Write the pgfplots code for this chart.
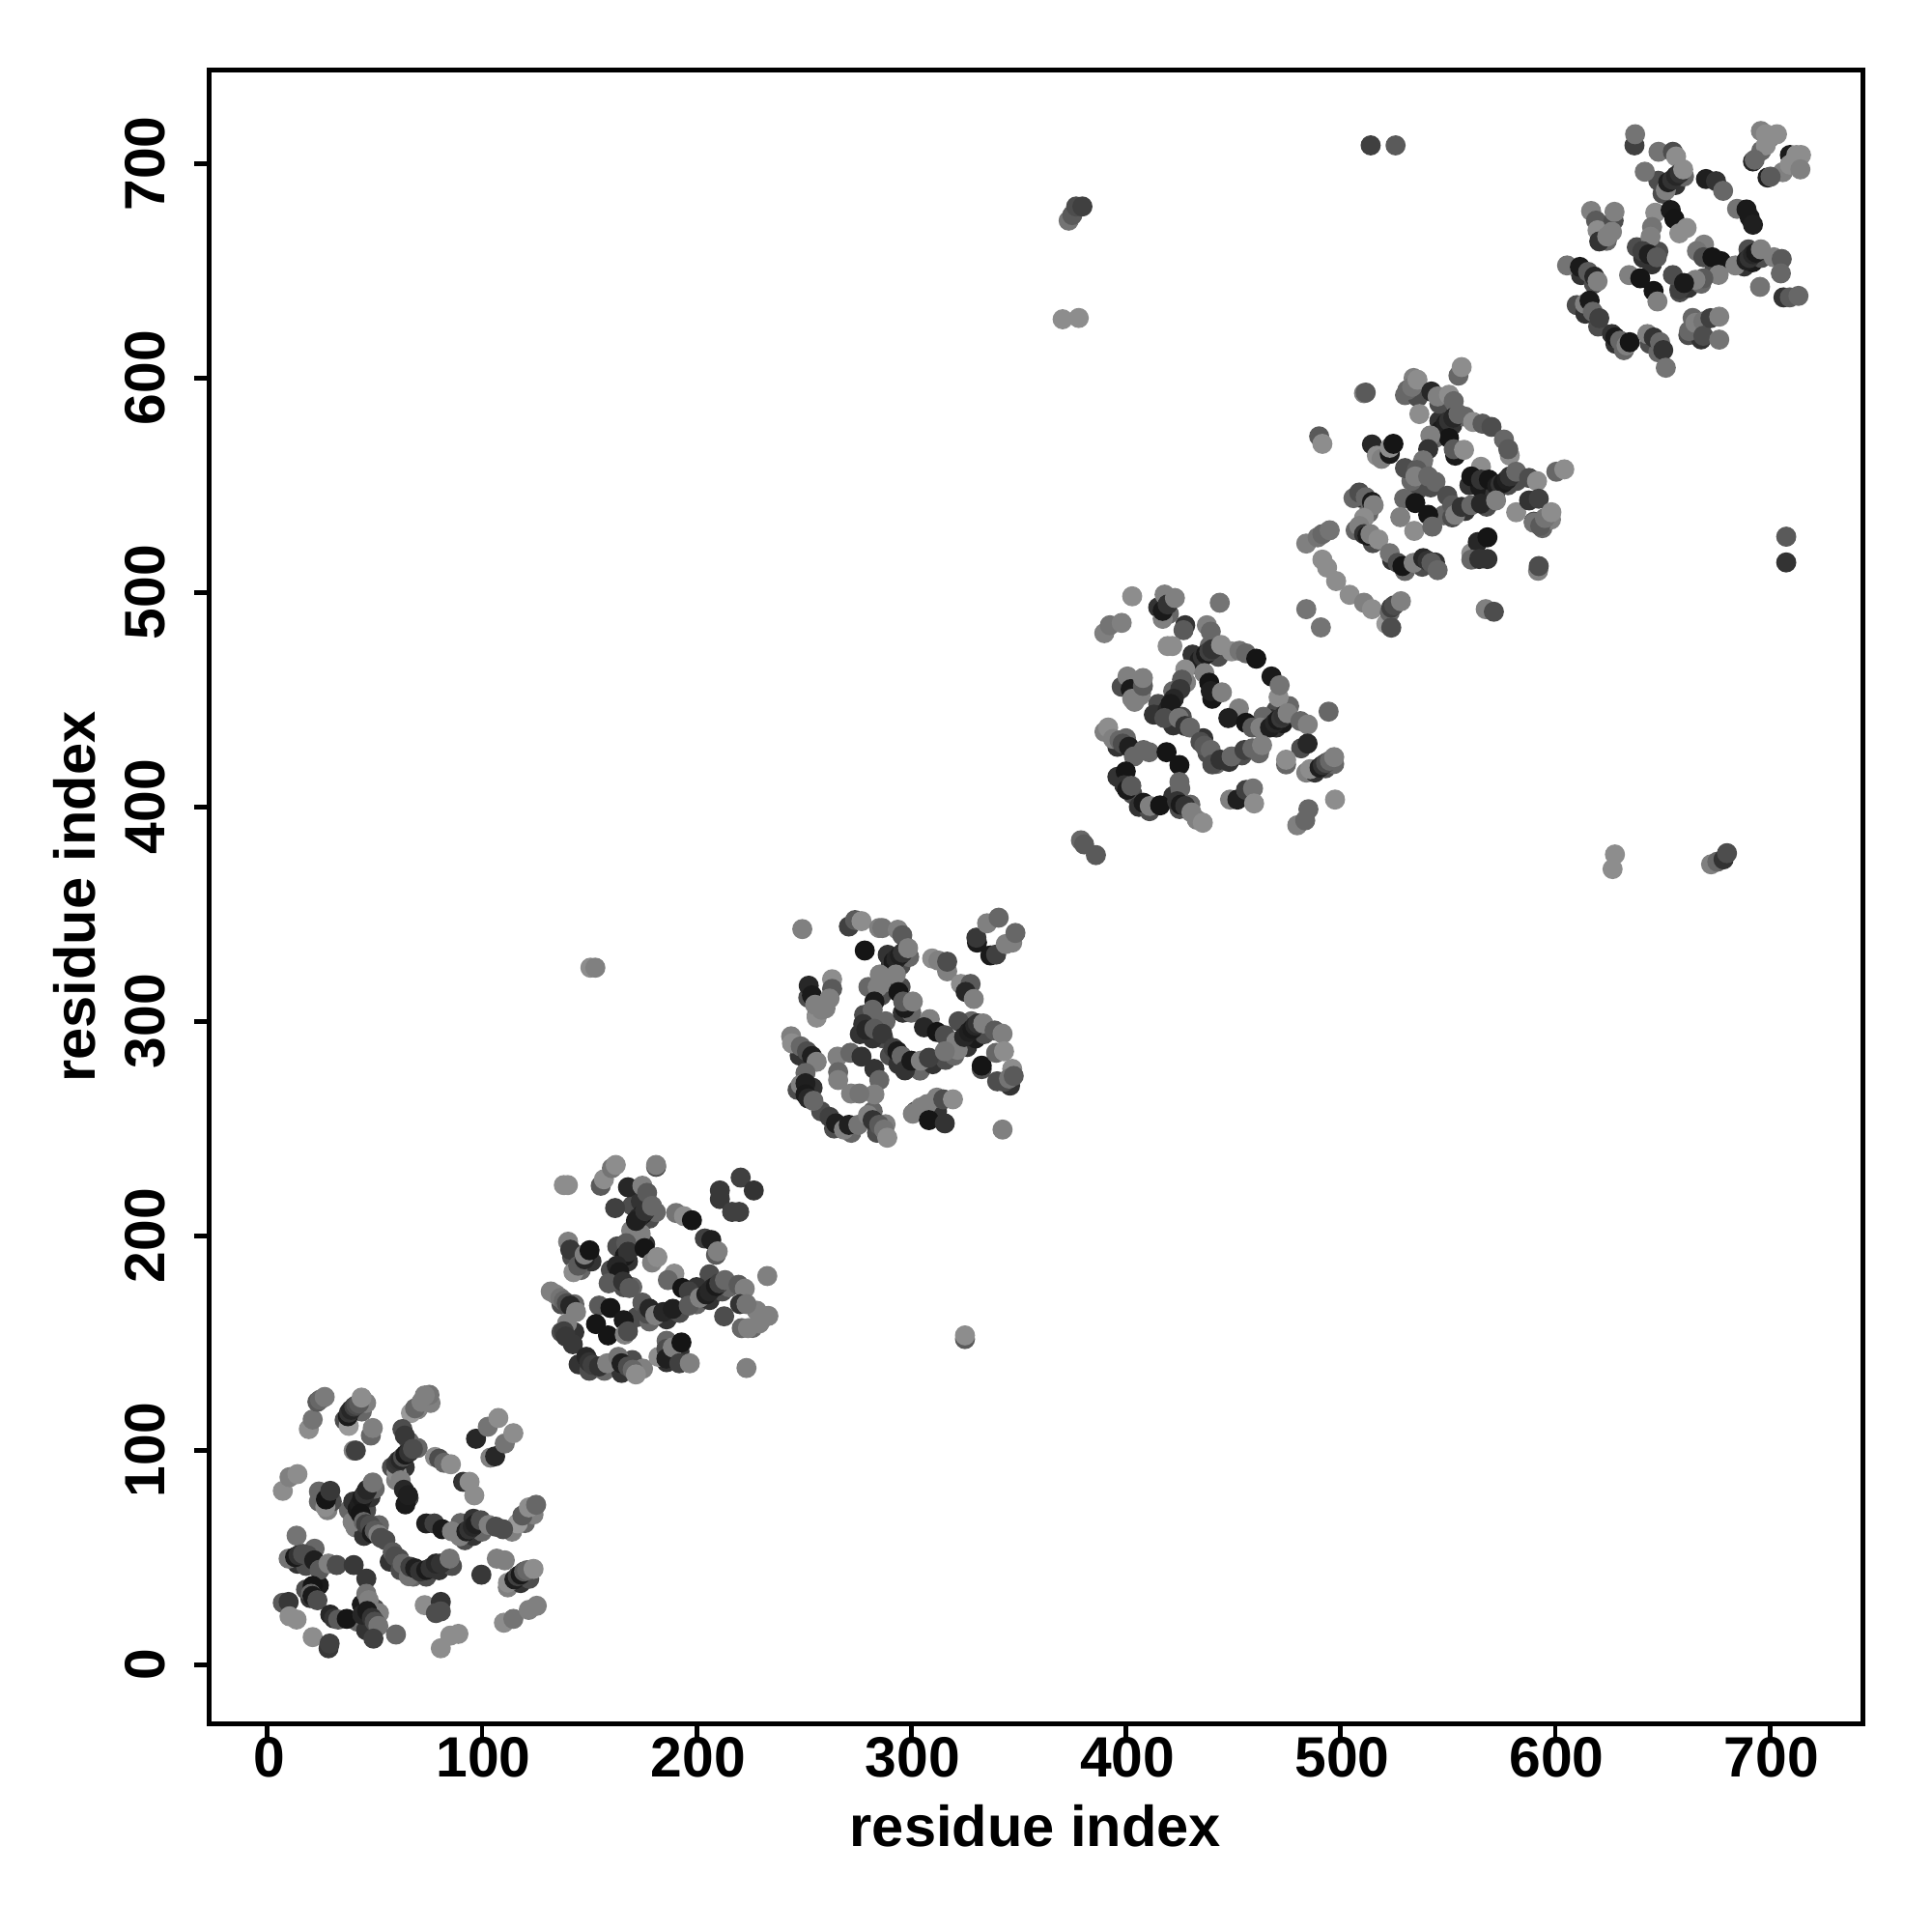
\documentclass[border=0pt]{standalone}
\usepackage{fontspec}
\setmainfont{Liberation Sans}
\usepackage{pgfplots}
\pgfplotsset{compat=1.18}
\pgfplotsset{
  colormap={bwmap}{gray(0cm)=(0); gray(1cm)=(1)},
  contact/.style={only marks, scatter, point meta=explicit, mark=*, mark size=2.4pt,
    scatter/use mapped color={draw=mapped color, fill=mapped color}},
}
\begin{document}
\begin{tikzpicture}
\path[use as bounding box] (-54.2pt,-53.9pt) rectangle (445.8pt,446.1pt);
\begin{axis}[
    scale only axis,
    width=427.9pt, height=427.9pt,
    xmin=-27, xmax=743.3, ymin=-27.6, ymax=743.5,
    xtick={0,100,...,700}, ytick={0,100,...,700},
    axis line style={line width=1.3pt},
    tick style={line width=1.2pt, black},
    tick align=outside, major tick length=3.9pt,
    xtick pos=bottom, ytick pos=left,
    /pgf/number format/assume math mode=true,
    tick label style={font=\fontsize{14.7}{16}\selectfont\bfseries},
    yticklabel style={rotate=90, anchor=south, yshift=3.9pt},
    xticklabel style={yshift=3.8pt, xshift=0.4pt},
    label style={font=\fontsize{14.9}{16}\selectfont\bfseries},
    xlabel={residue index}, ylabel={residue index},
    xlabel style={at={(axis description cs:0.4996,-0.0620)}, anchor=center},
    ylabel style={at={(axis description cs:-0.0815,0.5)}, anchor=center, rotate=0},
    point meta min=0, point meta max=1,
]
% points lying under the dense chains
\addplot[contact] coordinates {
(36,114)[.3] (44,118)[.4] (46,122)[.5] (70,119)[.5] (73,122)[.55] (76,122)[.5] (58,92)[.3] (64,92)[.2] (70,101)[.4] (66,104)[.4] (60,86)[.5]
(38,72)[.4] (40,76)[.2] (46,72)[.3] (48,78)[.2] (50,82)[.4] (41,64)[.5] (45,60)[.2] (52,65)[.4] (55,58)[.3]
(57,48)[.2] (62,44)[.3] (68,41)[.4] (74,41)[.3] (80,44)[.2] (86,46)[.3] (14,47)[.2] (18,46)[.3] (22,54)[.4] (20,31)[.2] (24,37)[.1] (18,35)[.3]
(42,20)[.4] (50,26)[.3] (52,24)[.5] (46,16)[.2] (44,28)[.1] (112,36)[.5] (118,38)[.2] (122,40)[.3] (114,62)[.5] (120,66)[.4] (124,70)[.5]
(92,58)[.3] (96,60)[.2] (100,62)[.4] (90,66)[.4] (96,68)[.2] (28,72)[.5] (24,76)[.4] (30,76)[.3]
(163,180)[.2] (160,184)[.3] (166,176)[.3] (170,176)[.4] (163,195)[.3] (168,188)[.2] (171,200)[.4] (176,196)[.2] (170,214)[.3] (178,208)[.3] (174,216)[.2] (181,211)[.4]
(132,174)[.5] (137,168)[.3] (143,168)[.4] (137,155)[.3] (143,155)[.2] (145,140)[.2] (150,137)[.3] (157,137)[.4] (165,136)[.2] (170,142)[.3] (175,138)[.5]
(172,162)[.3] (178,160)[.4] (186,161)[.2] (192,164)[.3] (200,168)[.4] (206,170)[.2] (212,174)[.3] (215,176)[.4] (206,182)[.3] (200,176)[.2]
(186,141)[.2] (188,144)[.1] (192,146)[.2] (186,151)[.4] (142,190)[.3] (146,184)[.4] (151,188)[.2] (226,157)[.4] (228,165)[.5]
(278,303)[.3] (282,300)[.2] (276,294)[.2] (287,292)[.3] (282,292)[.2] (288,300)[.4] (286,312)[.3] (280,316)[.4] (287,318)[.5] (289,331)[.2] (295,326)[.3] (299,330)[.4]
(296,304)[.2] (300,304)[.4] (295,316)[.3] (290,284)[.3] (294,280)[.2] (298,278)[.3] (304,277)[.4] (310,280)[.2] (316,282)[.3] (320,284)[.4]
(326,288)[.2] (330,292)[.1] (334,294)[.3] (328,300)[.4] (322,300)[.3] (244,293)[.5] (248,284)[.2] (252,280)[.2] (247,268)[.3] (254,269)[.2] (258,258)[.3] (264,250)[.3] (272,248)[.4] (282,258)[.4] (284,248)[.3] (288,252)[.5]
(256,303)[.4] (252,311)[.3] (260,306)[.5] (302,258)[.3] (308,258)[.1] (312,258)[.2] (340,272)[.3] (346,270)[.2]
(415,448)[.3] (413,443)[.2] (420,441)[.3] (422,438)[.2] (426,442)[.3] (422,454)[.4] (428,458)[.5] (434,466)[.3] (431,471)[.2] (439,475)[.4] (443,470)[.3]
(436,432)[.2] (438,425)[.3] (442,420)[.4] (448,421)[.2] (454,424)[.3] (462,425)[.4] (470,437)[.2] (473,439)[.1] (476,447)[.4] (470,445)[.3] (467,441)[.2] (464,442)[.4]
(484,416)[.5] (488,416)[.2] (493,418)[.3] (497,420)[.4] (390,435)[.5] (396,428)[.2] (400,432)[.4] (404,424)[.3] (396,414)[.2] (403,406)[.3] (406,400)[.2] (411,398)[.3] (422,405)[.2] (425,399)[.3] (430,401)[.4] (433,394)[.5]
(398,456)[.3] (404,449)[.5] (407,453)[.4] (415,493)[.2] (420,490)[.4] (418,499)[.5]
(546,580)[.2] (550,576)[.1] (544,572)[.4] (552,578)[.2] (558,582)[.4] (536,548)[.3] (533,552)[.4] (530,558)[.3] (538,560)[.2] (542,549)[.3]
(560,550)[.2] (565,549)[.1] (572,546)[.2] (578,550)[.3] (582,552)[.3] (548,536)[.4] (552,535)[.3] (558,538)[.2] (568,540)[.3] (510,544)[.2] (506,544)[.4] (513,537)[.4]
(507,529)[.4] (515,523)[.3] (524,515)[.2] (530,510)[.4] (538,512)[.3] (544,514)[.2] (590,533)[.3] (594,530)[.4] (598,534)[.5] (534,600)[.5] (530,592)[.4] (536,591)[.3] (546,588)[.3]
(650,686)[.3] (656,690)[.2] (660,694)[.4] (648,692)[.3] (641,656)[.2] (638,661)[.3] (645,653)[.2] (648,659)[.3] (658,640)[.3] (662,642)[.2] (668,644)[.4] (674,650)[.3]
(688,652)[.2] (692,654)[.1] (696,656)[.3] (690,660)[.3] (612,648)[.2] (618,644)[.3] (610,634)[.3] (614,630)[.2] (620,624)[.3] (628,616)[.2] (632,613)[.4] (644,616)[.3] (648,612)[.4]
(700,712)[.5] (696,706)[.4] (706,696)[.5] (662,620)[.3] (668,618)[.2] (664,628)[.4] (620,672)[.3] (624,664)[.4]
};
% domain 1
\addplot[contact] coordinates {
(19.3,109.8)[.55] (21.1,114.3)[.45] (23.3,122.5)[.35] (24.5,123.5)[.4] (26.7,124.8)[.48]
(37.9,111.3)[.6] (37.5,115.8)[.1] (38,117.5)[.2] (39,118.8)[.15] (40.5,120.3)[.25] (41.5,121)[.3] (42.7,121.8)[.35] (43.9,124.5)[.55]
(48.2,106.8)[.4] (49.1,110.3)[.5] (40.2,99.8)[.5] (41.2,99.8)[.25]
(66.9,117.3)[.6] (68.8,119.5)[.4] (71.8,122.5)[.5] (75.5,125.8)[.45] (73.3,125.5)[.5] (62.9,109.8)[.3] (64,106.8)[.22]
(60.2,89.7)[.55] (59.9,93.4)[.22] (61,95)[.2] (62.1,95.6)[.15] (63.2,96.8)[.3] (64.3,97.9)[.1] (66,99)[.2] (67.8,100.6)[.3]
(62.1,85.9)[.5] (63.6,81.5)[.15] (65.8,77.7)[.25] (64.3,74.7)[.1] (65.5,79)[.12]
(97.2,105.3)[.15] (102.7,110.9)[.45] (107.6,115)[.55] (103.9,96.5)[.5] (106.1,97.1)[.15] (110.6,103.1)[.45] (114.6,107.9)[.55]
(78.1,96.8)[.55] (80,96)[.3] (82.3,94.1)[.4] (85.5,93.4)[.55] (91.2,85.2)[.2] (94.2,85.2)[.55] (96.4,78.9)[.55] (7.2,81)[.55] (10.3,87.4)[.5] (14,88.8)[.55]
(24,80.7)[.4] (27,73.5)[.55] (27.3,77)[.08] (29.3,81)[.22]
(39.7,66.5)[.5] (42,72.5)[.1] (43,74.5)[.12] (44.2,77.7)[.1] (45.3,79.5)[.2] (46.4,81.5)[.15] (49.1,84.9)[.45] (43.4,70.3)[.08] (44.9,66.5)[.4] (46,65.5)[.25] (47.9,65)[.3] (48.7,61.3)[.1] (50,62.5)[.35] (51.7,60.6)[.5] (52.9,59.1)[.3]
(58.4,52.4)[.35] (59.5,50.5)[.3] (61.4,49.4)[.3] (63,47)[.4] (65.9,41.2)[.45] (66.6,45.6)[.25] (68.8,44.9)[.12] (71.1,43.4)[.2] (74,44.1)[.1] (76,45)[.2] (78.5,47.1)[.15] (80.8,47.1)[.2] (84.9,49.4)[.45]
(13.6,60.1)[.45] (9.9,49.4)[.45] (12.9,50.1)[.1] (14.5,51)[.2] (16.6,51.6)[.3] (18.8,50.9)[.3] (21.8,48.6)[.12] (24.3,44.2)[.35] (28.5,47.1)[.5] (32.3,46.4)[.3] (40.2,46.4)[.22] (46.1,40.1)[.22]
(21.1,36.7)[.08] (20.3,33)[.4] (21,32)[.1] (23.3,30)[.3] (29.3,23.3)[.15] (31,21.5)[.2] (33,21)[.35] (37,21.3)[.08] (44.2,23.3)[.15] (46.1,33)[.45] (47.2,30)[.5] (46.5,25)[.1] (48.7,21.8)[.2] (50,20)[.3] (51.7,18)[.45] (49.4,12.1)[.25] (59.9,14)[.4]
(7.2,28.8)[.35] (9.9,29.2)[.22] (10.3,22.5)[.55] (13.6,21)[.55] (21.1,12.8)[.55] (28.5,7.6)[.22] (29,9.8)[.25]
(73.3,27.7)[.55] (80.8,29.2)[.2] (78.5,24)[.3] (80.8,24.8)[.3] (80.8,7.6)[.55] (85.2,13.5)[.55] (89,14.3)[.55]
(99.7,41.9)[.22] (106.9,49.4)[.5] (110.6,48.6)[.5] (112.1,38.2)[.55] (115.1,39.7)[.12] (116.6,41.2)[.25] (118,42)[.1] (119.6,43.4)[.35] (121,44)[.4] (124,44.6)[.55]
(110.2,19.5)[.55] (114.6,21.3)[.45] (121.8,25.5)[.5] (125.5,27.4)[.5] (116.6,65.8)[.6] (118.8,69.5)[.35] (121.8,73.3)[.55] (125.2,74.5)[.4]
(74,65.8)[.12] (77.8,65.8)[.25] (81.5,63.1)[.1] (86,62.1)[.5] (89.7,59.8)[.5] (92.7,62.1)[.12] (94,63)[.2] (95.7,64.3)[.15] (97,65.5)[.12] (99.4,67.3)[.3] (103.1,65.1)[.5] (106.4,64.3)[.3] (109.8,63.1)[.3]
};
% domain 2
\addplot[contact] coordinates {
(138.1,223.6)[.55] (140,223.6)[.55] (155.3,223.3)[.35] (156.8,226.3)[.55] (160.5,231.5)[.45] (162.3,233)[.55] (181.1,232.1)[.3] (181.1,233)[.5]
(168,222.6)[.15] (174.7,223.3)[.5] (176.9,220)[.35] (162,212.9)[.25] (220.5,227.1)[.25] (226.6,221.1)[.2] (210.8,221.1)[.22] (210.8,217.1)[.22] (216.5,211.1)[.25] (219.8,211.1)[.25]
(169.5,202.4)[.5] (173.9,200.9)[.5] (174.7,209.9)[.1] (173,208.5)[.15] (171.7,206.9)[.12] (176,211.5)[.2] (179.2,213.9)[.4] (167.2,196.5)[.35] (166.5,190.5)[.1] (168,192.5)[.2] (175.7,194.2)[.08] (179.2,187.5)[.5] (181.7,190)[.55] (162.8,186)[.15] (164,183)[.1] (159,177.8)[.35] (165.7,178.6)[.2] (168.7,175.6)[.35]
(190.4,210.6)[.45] (194.1,209.1)[.55] (197.8,207.2)[.08] (203.8,198.7)[.25] (206.8,198)[.12] (209,191.1)[.35] (209.8,192.7)[.5]
(140.1,197.2)[.5] (141.1,193.5)[.22] (142.6,183)[.55] (144.8,186)[.35] (147.8,189)[.15] (147.8,191.2)[.5] (150.1,193.2)[.08]
(174.7,168.8)[.35] (176.9,163.6)[.3] (178,166)[.15] (180.7,162.9)[.5] (184.4,164.4)[.15] (188.9,165.9)[.12] (189.6,182.3)[.55] (186.6,179.3)[.4] (193.3,175.6)[.08] (196.3,174.1)[.25] (196.3,167.4)[.35] (201.5,171.1)[.5] (204.5,172.6)[.12] (206,174)[.15] (207.5,175.6)[.15] (209,176.5)[.1] (210.5,177.8)[.25] (213.2,179.3)[.4]
(219.5,177.1)[.35] (222.4,175.3)[.5] (220.2,168.1)[.2] (223.2,168.1)[.45] (232.9,181.2)[.5] (212.8,162.4)[.3] (221,156.9)[.4] (223.9,156.9)[.5] (229.2,159.1)[.5] (230.7,161.4)[.5] (233.4,162.6)[.5]
(134.4,172.6)[.5] (136.5,171)[.45] (138.1,169.6)[.4] (139.5,168.5)[.3] (141.1,167.4)[.15] (143.8,164.4)[.5] (154.5,167.4)[.35] (159.8,166.3)[.08] (166,160.6)[.1] (153.1,158.8)[.08] (158.7,153.5)[.08] (166.5,153.9)[.5] (168,155.4)[.3]
(139.6,159.1)[.5] (138.1,155.4)[.25] (139,153)[.22] (142.3,149.4)[.22] (148.6,143.5)[.15] (150,141)[.2] (151.5,139.7)[.25] (154.5,139)[.2] (158.3,140.5)[.5] (163.5,143.5)[.45] (165,140.5)[.12] (168,139)[.3] (170.2,137.5)[.4] (171.7,135.3)[.55]
(182.2,143.5)[.55] (185.9,147.2)[.3] (185.9,142.7)[.12] (188.9,147.9)[.5] (192.9,150.2)[.08] (191.9,140.5)[.25] (196.8,140.5)[.5] (223.2,138.3)[.5]
};
% domain 3
\addplot[contact] coordinates {
(249.2,343)[.5] (270.9,344.2)[.25] (273.8,347.2)[.35] (276.8,346.7)[.55] (285,343.5)[.5] (286.5,343.5)[.45] (293.7,342.7)[.5] (295.8,340.1)[.35] (278.3,333)[.08]
(290.3,325.6)[.22] (291.7,327.8)[.1] (293,329)[.15] (294.7,330.8)[.12] (296,332)[.2] (298.5,334.1)[.5] (292.8,321.8)[.5] (285.3,321.8)[.5] (284.3,315.9)[.5] (282.8,309.2)[.1] (282,305.4)[.4] (277.6,298.7)[.2] (294,313.6)[.08] (297,306.2)[.1] (296.2,309.2)[.35] (300.7,309.2)[.5] (279,296)[.15] (282.8,296.5)[.35] (286.5,294.2)[.22]
(309.7,329.3)[.55] (312.6,328.3)[.5] (316.7,323.3)[.5] (316.7,327.8)[.3] (323.1,317.4)[.55] (327.6,317.4)[.35] (325.3,313.7)[.15] (329.1,310.4)[.5]
(330.6,336.7)[.1] (330.3,339)[.22] (335.3,345.7)[.5] (340.7,348.3)[.4] (336.8,330.7)[.1] (339.5,331.1)[.25] (344,336)[.5] (347,336.7)[.5] (348.5,341.2)[.4]
(252.2,316.6)[.15] (253.7,312.1)[.1] (263.1,319.6)[.55] (263.1,315.1)[.35] (261.9,310.6)[.5] (255.9,301.7)[.55] (255.2,307.7)[.5] (258.2,305.4)[.5]
(308.6,301)[.5] (305.9,297.2)[.15] (311.9,295)[.08] (315.6,293.5)[.3] (320.9,290.5)[.5] (321.6,286.7)[.5] (324.6,292.7)[.15] (326.8,295)[.12] (328.5,296.5)[.1] (329.8,298)[.15] (331,299)[.2] (333.5,299)[.5] (338.8,295.7)[.35] (342.5,294.2)[.5]
(291.7,287.5)[.25] (293.5,286)[.1] (295.5,283.8)[.4] (297,277.1)[.2] (300,281.6)[.1] (304.4,281.6)[.5] (308.2,283)[.25] (315.6,286)[.45]
(265.6,283.5)[.5] (271.6,285.3)[.4] (276.8,283.5)[.2] (282.8,277.8)[.2] (285.1,272.6)[.4] (265.9,276.3)[.4] (265.9,272.6)[.5] (282.8,265.9)[.5] (271.9,266.3)[.5] (275.8,266.3)[.45]
(244.4,289.7)[.55] (248.5,288.3)[.4] (251.4,286)[.3] (253.7,283.8)[.12] (255.9,281.1)[.5] (250.7,275.9)[.4] (248.5,270.4)[.5] (250.7,271.1)[.12] (250.7,265.9)[.1] (252,264)[.15] (254.4,262.9)[.4]
(261.9,255.4)[.25] (264.9,252.4)[.12] (268.6,249.5)[.5] (270.9,251.7)[.12] (275.3,251.7)[.45] (279.8,256.2)[.5] (282,253.9)[.2] (285,251.7)[.35] (287.3,249.5)[.45] (288.8,245.7)[.55]
(300.7,256.9)[.5] (304.4,259.9)[.5] (307.4,261.4)[.5] (308.2,253.9)[.08] (311.9,264.4)[.5] (315.6,252.4)[.2] (314.9,263.6)[.3] (319.4,263.6)[.55]
(332.8,277.7)[.3] (332.8,279.3)[.08] (347,277.8)[.55] (339.5,285.3)[.4] (343.2,286)[.55] (343.2,271.8)[.3] (345.5,273.3)[.45] (347.7,274.5)[.35] (342.5,249.5)[.5]
};
% domain 4
\addplot[contact] coordinates {
(379,384.4)[.4] (380.5,382.5)[.35] (386,377.5)[.35]
(402.9,498.2)[.55] (389.9,481)[.5] (392.5,484.7)[.45] (398,485.8)[.5] (443.7,495.2)[.45] (417.1,487.7)[.5] (417.1,491.4)[.1] (419.4,494.4)[.2] (422.8,497.4)[.5] (427.6,484.7)[.2] (426.8,482.4)[.35] (437.7,484.7)[.5] (439.5,481.7)[.4] (419.4,475)[.55] (421.6,475)[.55]
(434.3,468.3)[.12] (435.8,470)[.2] (437.3,471.3)[.1] (438.8,472.5)[.25] (440.2,473.5)[.2] (444.3,475.5)[.55] (449.2,472.5)[.55] (452.9,472.8)[.45] (455.9,471.6)[.4] (460.7,469.1)[.08] (467.8,460.8)[.1] (471.1,451.1)[.55] (471.6,456.7)[.45]
(427.6,464.1)[.55] (426.1,459.3)[.35] (425.3,454.9)[.22] (422.3,450.4)[.15] (419.4,445.2)[.15] (420.8,448)[.1] (417.9,441.4)[.3] (424.6,441.4)[.45] (427.6,437.7)[.2] (429.8,437)[.4]
(436.5,462.4)[.5] (438.8,457.9)[.08] (440.2,450.4)[.08] (439.5,454)[.12] (444.7,453.4)[.5]
(452.6,445.9)[.5] (447.7,441.4)[.12] (455.9,439.2)[.08] (458.9,437)[.35] (462.6,437)[.5] (467.1,437)[.12] (469.4,439.2)[.15] (470.8,440.5)[.1] (472.3,441.4)[.22] (473.5,442.5)[.2] (475.3,443.7)[.5] (481.3,440)[.4] (484.7,438.4)[.5] (494.4,444.4)[.4]
(434.7,430.3)[.3] (436.5,428.5)[.35] (439.5,426.5)[.4] (440.2,419.8)[.3] (444,422)[.2] (449.2,423.5)[.4] (455.2,426.5)[.25] (458.9,427.3)[.4] (463.4,428.8)[.5]
(481.6,427.3)[.3] (484.6,429.5)[.15] (474.6,419.8)[.4] (474.6,422)[.55] (485.8,417.6)[.55] (490.2,418.3)[.12] (491.7,419.5)[.2] (493.2,420.5)[.3] (495,421.5)[.4] (497,423.2)[.5] (497.4,403.4)[.55]
(400.7,460.8)[.5] (402.2,454.9)[.1] (402.9,450.4)[.5] (406.7,451.9)[.5] (407.9,456.4)[.35] (407.9,460.1)[.5]
(391.7,437)[.55] (394,431.7)[.5] (397,431)[.4] (398.5,429.5)[.3] (401.4,428)[.12] (403.7,423.5)[.4] (408.2,426.5)[.4] (410.8,425.5)[.4] (418.9,425.5)[.08] (424.9,419.5)[.08] (399.9,416.5)[.08] (399.2,410.1)[.2] (400.5,408)[.1] (402.5,409.8)[.35] (424.9,411.6)[.4] (425.3,408.6)[.4]
(408.2,401.9)[.1] (411.1,400.4)[.5] (415.9,400.7)[.08] (423.8,402.6)[.2] (425.5,401)[.1] (427.6,400.4)[.2] (430.5,397.4)[.5] (435.8,392.6)[.55]
(448.5,403.4)[.5] (451.9,403.4)[.12] (455.9,407.9)[.25] (459.2,408.6)[.45] (459.7,401.6)[.55] (479.8,391.4)[.5] (483.5,393.7)[.4] (485,398.9)[.4]
};
% domain 5
\addplot[contact] coordinates {
(484,522.8)[.5] (489.3,525.7)[.45] (491.5,527.2)[.4] (494.9,529)[.45] (491.5,515.3)[.55] (493.7,511.6)[.55] (497.9,505.3)[.55] (504.2,498.9)[.55] (510.9,495.2)[.5] (514.6,492.2)[.55] (484,492.2)[.45] (490.8,483.7)[.45]
(521.3,485.4)[.6] (522.9,490.7)[.4] (523.6,492.9)[.25] (525,494)[.3] (528.1,495.9)[.5] (523.6,483.6)[.3] (567.6,492.2)[.5] (571.4,491)[.3] (592,510.1)[.5] (592.3,512.3)[.3]
(510.9,592.9)[.5] (511.7,593.2)[.35] (490,572.8)[.35] (491.5,569.3)[.55]
(514.6,569)[.15] (516.9,563.8)[.55] (519.1,562.3)[.5] (522.9,564.6)[.1] (522.9,567.5)[.55] (524.6,569.3)[.08]
(531.1,594.4)[.4] (533.3,595.9)[.45] (535.8,599.2)[.55] (536.7,583.2)[.55] (542.3,593.7)[.15] (545.2,591.4)[.5] (550.5,592.2)[.55] (552.7,589.2)[.4] (554.9,601.1)[.4] (556.4,605.1)[.55]
(546.7,575.7)[.1] (549,578.7)[.12] (550.5,580)[.2] (552.5,581.5)[.15] (554.9,583.2)[.4] (550.5,572)[.08] (541.8,573.2)[.5] (540.8,566.8)[.2] (538.5,561.6)[.45] (535.5,557.1)[.35] (534.8,554.1)[.5] (540.8,554.1)[.4] (544.2,551.6)[.4]
(553.4,563.8)[.1] (552.7,566.8)[.35] (557.5,566.5)[.55]
(561.7,579.5)[.55] (566.1,578.7)[.35] (570.3,577.2)[.3] (576.1,571.3)[.4] (578.8,563.8)[.55] (578.1,566.8)[.35]
(565.4,558.6)[.55] (560.9,554.1)[.08] (565.4,552.6)[.2] (569.1,552.6)[.08] (572.9,549.6)[.12] (574.5,550.5)[.2] (575.8,551.1)[.1] (577.5,552.5)[.12] (578.8,554.1)[.2] (581.8,556.3)[.4] (587.8,553.4)[.3] (591.5,551.9)[.55] (600.5,556.3)[.4] (604.2,557.4)[.55]
(549.7,545.1)[.3] (552,540.7)[.35] (553.4,536.2)[.5] (556.4,539.9)[.2] (560.9,540.7)[.4] (565.4,541.4)[.15] (572.4,542.9)[.5]
(581.8,537.4)[.55] (587.8,542.9)[.2] (592.3,543.7)[.25] (590,532.5)[.45] (593,531)[.35] (595.2,534.7)[.45] (598.2,537.4)[.55]
(529.6,543.7)[.4] (534.8,541.7)[.08] (540.8,536.2)[.08] (527.8,535.1)[.5] (534.3,528.7)[.55] (542.7,530.7)[.4]
(508.7,546.6)[.3] (511.7,544.4)[.4] (514.6,542.2)[.1] (515.4,540.7)[.5] (510.9,534.7)[.55] (508.7,531)[.5] (510.9,527.2)[.2] (512.5,526.5)[.1] (513.9,527.2)[.5] (517.6,524.7)[.55]
(522.9,518.3)[.45] (526.6,513.8)[.3] (528.8,512.3)[.08] (534,513.8)[.5] (538.5,516)[.15] (540.5,514.8)[.2] (542.3,513.8)[.35] (545.2,510.4)[.4]
(560.9,518.3)[.55] (563.9,523.5)[.15] (560.9,515.3)[.4] (568.4,525.7)[.08] (564.6,515.6)[.2] (568.4,515.6)[.2]
};
% domain 6
\addplot[contact] coordinates {
(636.9,708.5)[.25] (637.2,713.7)[.45] (648.1,705.5)[.45] (654.8,705.5)[.3] (656.3,703.3)[.55] (641.7,696.2)[.45]
(651.5,687.6)[.5] (652.6,691.3)[.12] (654.5,692.5)[.2] (656.3,694.3)[.15] (658,695.5)[.2] (659.6,697.3)[.55]
(670.2,692.8)[.12] (674.9,691.8)[.2] (678.2,687.3)[.4] (684.7,678.9)[.45] (689.1,678.6)[.1] (690.6,674.9)[.1] (692.1,671.5)[.12]
(695.8,715.2)[.5] (698.1,708.5)[.55] (698.1,713.7)[.55] (703.3,713.7)[.55] (692.1,701)[.15] (692.9,701.8)[.4] (698.9,693.5)[.12] (700.3,693.9)[.35] (709.3,704)[.1] (712.3,704)[.55] (714.5,704)[.55] (709.3,699.5)[.55] (714.2,697.3)[.5]
(616.7,677.9)[.5] (619,673.4)[.35] (619.7,668.9)[.55] (627.2,673.4)[.3] (627.6,677.5)[.5] (626.4,668.2)[.5] (620.5,663.7)[.2] (624.2,666)[.5]
(646.6,677.1)[.55] (645.1,670.4)[.45] (644.4,665.9)[.5] (653.8,678.3)[.1] (655.5,674.2)[.08] (657.8,667.5)[.55] (661.2,670)[.55] (640.6,659.2)[.25] (643.6,657.7)[.12] (647.3,656.3)[.35]
(669.3,662.2)[.5] (666,659.2)[.45] (669,656.3)[.3] (673.2,656.3)[.08] (677.2,654.5)[.08] (676.1,648.1)[.5] (669,646.5)[.35] (665.3,645.8)[.5]
(657.8,641.3)[.25] (654.8,648)[.3] (660,644.3)[.1]
(683.9,652.5)[.5] (689.1,654.8)[.12] (690.5,656)[.2] (692.1,657.7)[.15] (693.5,658.5)[.1] (695.8,660)[.5] (701.8,656.3)[.5] (705.5,655.5)[.35] (705.1,648.8)[.4] (695.4,642.5)[.45] (706.3,637.6)[.2] (709.3,637.6)[.35] (713.3,638.3)[.4]
(634.4,648)[.5] (639.6,646.5)[.08] (645.8,640.6)[.08] (647.6,635.7)[.5]
(605.5,652.5)[.45] (611.5,651.8)[.1] (615.3,649.5)[.35] (618.2,647.3)[.15] (619.7,645.1)[.5] (613.8,634.6)[.5] (616,636.1)[.1] (617.5,630.9)[.4] (620.5,627.9)[.25]
(626.4,620.5)[.2] (628,619)[.1] (630.2,617.4)[.4] (633.2,615.2)[.5] (634.7,616.7)[.08] (642.9,620.5)[.5] (645.9,618.9)[.2] (648.8,616.7)[.4] (650.3,613)[.2] (651.5,604.8)[.45]
(662.3,621.9)[.4] (665.3,625.7)[.5] (669,626.4)[.45] (669,619.7)[.3] (672.3,627.9)[.25] (676.4,628.6)[.5] (676.4,617.9)[.45]
};
% long-range contacts
\addplot[contact] coordinates {
(373.3,673.4)[.45] (375,676)[.35] (376.8,680)[.3] (379.7,680)[.25] (370.5,627.4)[.55] (378,628)[.55]
(514,708.5)[.25] (525.6,708.5)[.35] (707.6,526)[.35] (707.6,514)[.2]
(627.8,377.8)[.55] (626.7,371)[.55] (672.6,373.2)[.5] (675.5,374.4)[.4] (678.4,375.5)[.2] (680,378.4)[.3]
(150.5,325)[.55] (152.8,325)[.5] (325,151.8)[.35] (325,153.5)[.55]
};
\end{axis}
\end{tikzpicture}
\end{document}
